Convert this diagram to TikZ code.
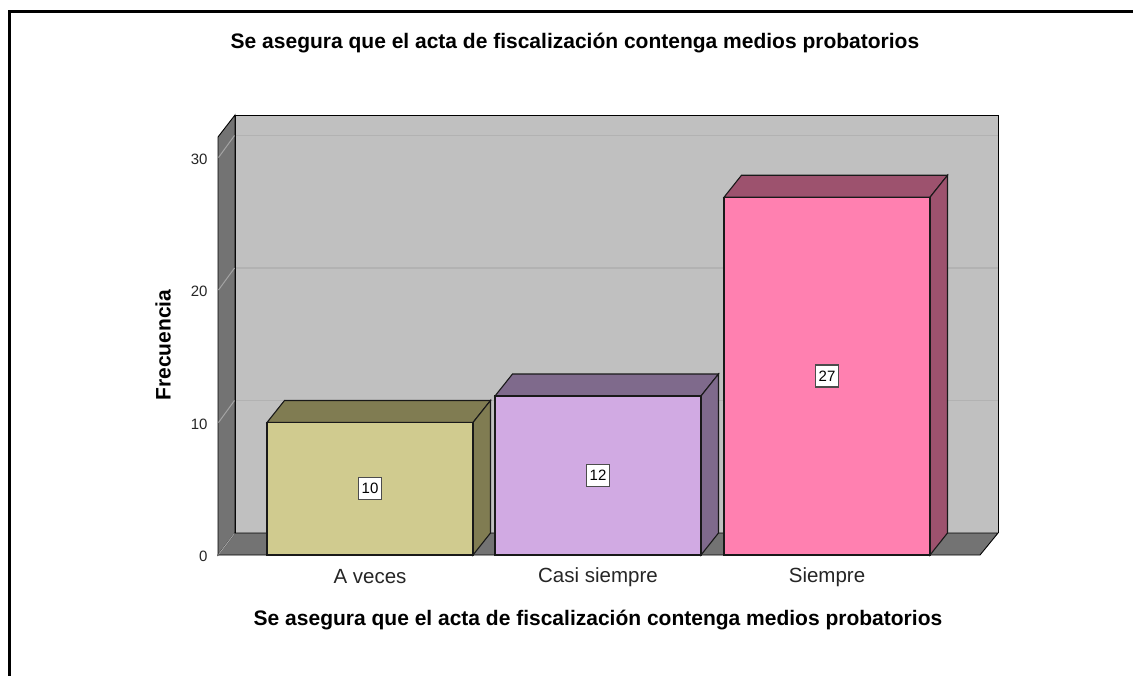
\documentclass[tikz,border=0pt]{standalone}
\usepackage{fontspec}
\setmainfont{Liberation Sans}
\definecolor{wallback}{HTML}{C0C0C0}
\definecolor{wallside}{HTML}{737373}
\definecolor{gridback}{HTML}{B2B2B2}
\definecolor{gridside}{HTML}{A4A4A4}
\definecolor{bAfront}{HTML}{D0CB8F}
\definecolor{bAdark}{HTML}{807C52}
\definecolor{bBfront}{HTML}{D1AAE3}
\definecolor{bBdark}{HTML}{7F6A8C}
\definecolor{bCfront}{HTML}{FF80B0}
\definecolor{bCdark}{HTML}{9D526E}
\tikzset{
  barline/.style={draw=black!90, line width=1.1pt, line join=miter},
  wallline/.style={draw=black, line width=0.9pt},
  vallabel/.style={draw=black!70, fill=white, line width=1.3pt, inner sep=2pt, minimum width=23pt, minimum height=22pt, font=\fontsize{15}{16}\selectfont},
  ticklab/.style={anchor=east, font=\fontsize{15}{16}\selectfont, text=black!85},
  catlab/.style={font=\fontsize{20.5}{24}\selectfont, text=black!85},
  boldlab/.style={font=\bfseries\fontsize{21}{24}\selectfont}
}
\newcommand{\barbox}[5]{%
  \pgfmathsetmacro\xr{#1+206}%
  \pgfmathsetmacro\yt{555-13.25*#2}%
  \filldraw[barline, fill=#4] (#1,\yt) -- ++(17.5,-22) -- ++(206,0) -- ++(-17.5,22) -- cycle;
  \filldraw[barline, fill=#4] (\xr,555) -- ++(17.5,-22) -- ({\xr+17.5},{\yt-22}) -- (\xr,\yt) -- cycle;
  \filldraw[barline, fill=#3] (#1,555) rectangle (\xr,\yt);
  \node[vallabel] (#5) at ({#1+103},{555-13.25*#2/2}) {#2};
}
\begin{document}
\begin{tikzpicture}[x=1pt,y=-1pt]
\useasboundingbox (0,0) rectangle (1133,675);
\fill[white] (0,0) rectangle (1133,675);
% outer frame
\draw[line width=2.6pt] (9.5,676) -- (9.5,11.3) -- (1134,11.3);
% back wall
\fill[wallback] (235,115) rectangle (998,533);
\foreach \v in {10,20,30} {
  \draw[gridback, line width=1.3pt] (235,{533-13.25*\v}) -- (998,{533-13.25*\v});
}
\draw[wallline] (235,533) -- (235,115) -- (998,115) -- (998,533);
% left wall
\filldraw[wallline, fill=wallside] (218,137) -- (235,115) -- (235,533) -- (218,555) -- cycle;
\foreach \v in {10,20,30} {
  \draw[gridside, line width=1pt] (218.5,{555-13.25*\v}) -- (234.5,{533-13.25*\v});
}
% floor
\filldraw[wallline, fill=wallside] (218,555) -- (235,533) -- (998,533) -- (980,555) -- cycle;
\draw[gridside, line width=1pt] (218.5,554.5) -- (234.5,533.5);
% bars
\barbox{267}{10}{bAfront}{bAdark}{lA}
\barbox{495}{12}{bBfront}{bBdark}{lB}
\barbox{724}{27}{bCfront}{bCdark}{lC}
% tick labels
\node[ticklab] (t0) at (211,556) {0};
\node[ticklab] (t10) at (211,424) {10};
\node[ticklab] (t20) at (211,291) {20};
\node[ticklab] (t30) at (211,159) {30};
% category labels
\node[catlab] (cA) at (370,577) {A veces};
\node[catlab] (cB) at (598,577) {Casi siempre};
\node[catlab] (cC) at (827,577) {Siempre};
% titles
\node[boldlab] (title) at (575,43) {Se asegura que el acta de fiscalización contenga medios probatorios};
\node[boldlab] (xtitle) at (598,620) {Se asegura que el acta de fiscalización contenga medios probatorios};
\node[boldlab, rotate=90] (ytitle) at (163,345) {Frecuencia};
\end{tikzpicture}
\end{document}
